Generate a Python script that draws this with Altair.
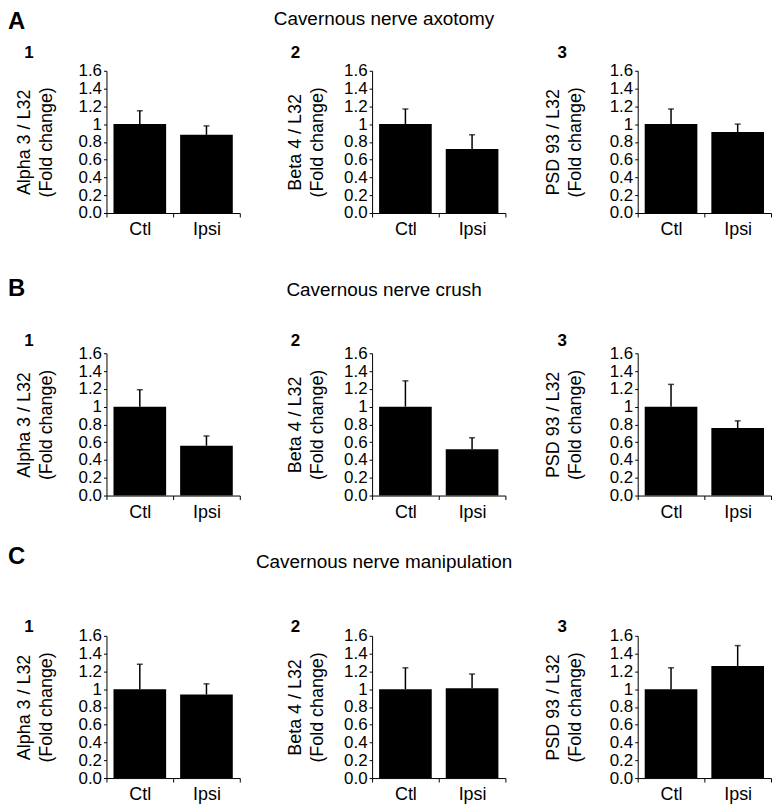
import altair as alt
import pandas as pd

groups = ["Ctl", "Ipsi"]
row_titles = ["Cavernous nerve axotomy", "Cavernous nerve crush", "Cavernous nerve manipulation"]
row_letters = ["A", "B", "C"]
panel_numbers = ["1", "2", "3"]
y_titles = [["Alpha 3 / L32", "(Fold change)"],
            ["Beta 4 / L32", "(Fold change)"],
            ["PSD 93 / L32", "(Fold change)"]]
y_ticks = [0, 0.2, 0.4, 0.6, 0.8, 1, 1.2, 1.4, 1.6]

# means (Ctl, Ipsi) per gene: Alpha 3, Beta 4, PSD 93
axotomy_mean = [[1.00, 0.88], [1.00, 0.72], [1.00, 0.91]]
axotomy_err = [[0.15, 0.10], [0.17, 0.16], [0.17, 0.09]]
crush_mean = [[1.00, 0.56], [1.00, 0.52], [1.00, 0.76]]
crush_err = [[0.19, 0.11], [0.29, 0.13], [0.25, 0.08]]
manip_mean = [[1.00, 0.94], [1.00, 1.01], [1.00, 1.26]]
manip_err = [[0.28, 0.12], [0.24, 0.16], [0.24, 0.23]]

means = [axotomy_mean, crush_mean, manip_mean]
errs = [axotomy_err, crush_err, manip_err]

FONT = "Liberation Sans"
W, H = 134, 143
# layout offsets (pixels, relative to each panel's plot area)
letter_y = [-42, -58, -72]
rowtitle_y = [-52, -64, -74]
number_y = [-18, -12, -9]
number_x = [-78, -77, -76]
title_pad = [23, 17, 25]


def panel(r, c):
    df = pd.DataFrame({
        "group": groups,
        "mean": means[r][c],
        "upper": [m + e for m, e in zip(means[r][c], errs[r][c])],
    })
    xenc = alt.X("group:N", sort=groups,
                 scale=alt.Scale(paddingInner=0, paddingOuter=0),
                 axis=alt.Axis(title=None, labelAngle=0, tickBand="extent",
                               tickSize=4, labelPadding=4, labelFontSize=18,
                               domainColor="black", tickColor="black",
                               labelColor="black", labelFont=FONT))
    yaxis = alt.Axis(values=y_ticks,
                     labelExpr="datum.value == 1 ? '1' : format(datum.value, '.1f')",
                     labelOverlap=False, labelFlush=False,
                     title=y_titles[c], titleFontSize=18, titleFont=FONT,
                     titleFontWeight="normal", titleColor="black",
                     titlePadding=title_pad[c], titleLineHeight=22,
                     tickSize=3, labelPadding=2, labelFontSize=17,
                     labelFont=FONT, labelColor="black",
                     domainColor="black", tickColor="black", grid=False)
    yscale = alt.Scale(domain=[0, 1.6], nice=False, zero=True)
    yenc = alt.Y("mean:Q", scale=yscale, axis=yaxis)
    base = alt.Chart(df)
    bars = base.mark_bar(color="black", width=alt.RelativeBandSize(0.79)).encode(x=xenc, y=yenc)
    err = base.mark_rule(color="black", strokeWidth=1.5).encode(
        x=alt.X("group:N", sort=groups), y=yenc, y2="upper:Q")
    cap = base.mark_tick(color="black", size=6, thickness=1.5).encode(
        x=alt.X("group:N", sort=groups), y=alt.Y("upper:Q", scale=yscale, axis=yaxis))
    layers = [bars, err, cap]

    num_df = pd.DataFrame({"t": [panel_numbers[c]]})
    layers.append(alt.Chart(num_df).mark_text(
        font=FONT, fontSize=17, fontWeight="bold", align="center",
        baseline="middle", color="black").encode(
        text="t:N", x=alt.value(number_x[c]), y=alt.value(number_y[r])))
    if c == 0:
        let_df = pd.DataFrame({"t": [row_letters[r]]})
        layers.append(alt.Chart(let_df).mark_text(
            font=FONT, fontSize=24, fontWeight="bold", align="left",
            baseline="alphabetic", color="black").encode(
            text="t:N", x=alt.value(-99), y=alt.value(letter_y[r])))
    if c == 1:
        t_df = pd.DataFrame({"t": [row_titles[r]]})
        layers.append(alt.Chart(t_df).mark_text(
            font=FONT, fontSize=19, align="center",
            baseline="middle", color="black").encode(
            text="t:N", x=alt.value(12), y=alt.value(rowtitle_y[r])))
    return alt.layer(*layers).properties(width=W, height=H)


panels = [panel(r, c) for r in range(3) for c in range(3)]

chart = (alt.concat(*panels, columns=3, spacing={"row": 141, "column": 133},
                    bounds="flush")
         .properties(padding=0)
         .configure_view(stroke=None)
         .configure_axisY(labelOverlap=False, labelFlush=False))

chart.save("out.html", embed_options={"renderer": "svg", "actions": False})
